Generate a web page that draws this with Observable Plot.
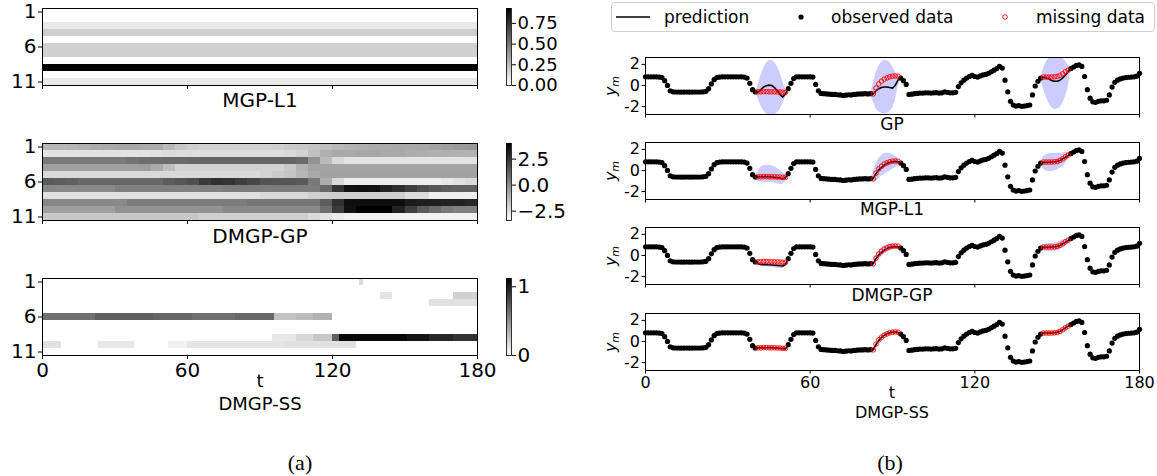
<!DOCTYPE html>
<html><head><meta charset="utf-8">
<script src="https://cdn.jsdelivr.net/npm/d3@7"></script>
<script src="https://cdn.jsdelivr.net/npm/@observablehq/plot@0.6"></script>
<style>
body{margin:0;background:#fff;}
#root{position:relative;width:1157px;height:476px;overflow:hidden;font-family:"DejaVu Sans",sans-serif;color:#000;background:#fff;}
.lbl{position:absolute;transform:translate(-50%,-50%);white-space:nowrap;line-height:0.8;}
.lleft{position:absolute;transform:translate(0,-50%);white-space:nowrap;line-height:1;}
</style></head><body><div id="root"></div>
<script>
// ---------- data ----------
const timeTicks = [0, 60, 120, 180];
const rowTicks = [1, 6, 11];
const rowIds = d3.range(1, 12);

// (a) MGP-L1 weights per row (constant in time)
const l1Weights = [0, 0, 0.08, 0.17, 0, 0.17, 0.17, 0, 0.93, 0, 0.08];

// (a) DMGP-GP values, 11 rows x 36 columns (each column spans 5 time steps)
const dgpCellStarts = d3.range(0, 180, 5);
const dgpRows = [
  [-1.3,-1.3,-1.25,-1.15,-1.0,-0.9,-0.85,-0.85,-0.9,-1.0,-1.4,-1.8,-2.0,-2.1,-2.1,-2.1,-2.1,-2.1,-2.1,-2.0,-1.9,-1.8,-1.7,-1.5,-1.3,-1.2,-1.1,-1.0,-0.95,-0.9,-0.9,-0.85,-0.7,-0.6,-0.5,-0.4],
  [-2.6,-2.6,-2.6,-2.6,-2.6,-2.6,-2.6,-2.6,-2.6,-2.5,-2.4,-2.4,-2.4,-2.4,-2.4,-2.4,-2.4,-2.4,-2.4,-2.4,-2.3,-2.1,-1.6,-1.1,-0.9,-0.9,-0.85,-0.85,-0.9,-0.9,-1.0,-1.05,-1.1,-1.1,-1.15,-1.2],
  [0.5,0.5,0.5,0.5,0.5,0.5,0.5,0.65,0.8,0.85,0.9,0.95,1.0,1.1,1.1,1.1,1.1,1.1,1.1,1.1,1.1,0.9,-0.2,-1.4,-2.3,-2.6,-2.6,-2.6,-2.6,-2.6,-2.6,-2.6,-2.6,-2.6,-2.6,-2.6],
  [-0.6,-0.6,-0.6,-0.6,-0.6,-0.6,-0.6,-0.6,-0.6,-0.9,-1.5,-2.1,-2.1,-2.1,-2.1,-2.1,-2.1,-2.1,-2.1,-2.1,-1.8,-1.2,-0.75,-0.75,-0.75,-0.75,-0.75,-0.75,-0.75,-0.75,-0.75,-0.75,-0.75,-0.75,-0.75,-0.75],
  [-2.3,-2.3,-2.3,-2.3,-2.3,-2.3,-2.3,-2.3,-2.3,-2.3,-2.3,-2.3,-2.3,-2.3,-2.3,-2.3,-2.3,-2.3,-2.1,-1.9,-1.7,-1.3,-0.9,-0.7,-0.7,-0.7,-0.7,-0.7,-0.7,-0.7,-0.7,-0.7,-0.7,-0.7,-0.7,-0.7],
  [1.4,1.3,1.2,1.0,1.0,1.0,1.0,1.0,1.0,1.0,1.3,1.5,1.7,2.3,2.6,2.5,2.2,1.9,1.6,1.5,1.5,1.4,0.5,-1.0,-2.3,-2.9,-2.9,-2.9,-2.9,-2.9,-2.9,-2.9,-2.9,-2.7,-2.5,-2.3],
  [0.05,0.05,0.05,0.05,0.05,0.05,0.3,0.3,0.3,0.3,0.3,0.3,0.3,0.3,0.3,0.4,0.4,0.4,0.4,0.4,0.4,0.4,0.4,1.0,2.5,3.5,3.6,3.5,3.0,2.6,2.2,1.8,1.5,1.3,1.2,1.2],
  [-2.5,-2.5,-2.5,-2.5,-2.5,-2.5,-2.5,-2.5,-2.5,-2.5,-2.5,-2.5,-2.5,-2.5,-2.5,-2.5,-2.5,-2.5,-2.3,-2.3,-2.3,-2.3,-2.0,-2.0,-2.0,-2.0,-2.0,-2.0,-2.0,-2.0,-2.4,-2.4,-2.9,-2.9,-2.9,-2.9],
  [0.05,0.05,0.05,0.05,0.05,0.05,0.05,0.4,0.4,0.4,0.4,0.4,0.4,0.4,0.4,0.4,0.4,0.6,0.6,0.6,0.6,0.6,0.6,1.3,2.6,3.6,3.6,3.6,3.6,3.6,3.2,3.1,3.1,3.0,3.0,2.9],
  [-0.6,-0.6,-0.6,-0.6,-0.6,-0.6,-0.2,-0.2,-0.2,-0.2,-0.2,-0.2,-0.2,-0.2,-0.2,0.05,0.05,0.05,0.05,0.05,0.05,0.05,0.05,0.8,2.3,3.5,4.0,4.0,4.0,3.0,2.2,1.4,0.9,0.5,0.3,0.3],
  [-1.8,-1.8,-1.8,-1.8,-1.8,-1.8,-1.8,-1.8,-1.8,-1.8,-1.8,-1.8,-1.8,-2.0,-2.0,-2.0,-2.0,-2.0,-2.0,-2.0,-2.0,-2.0,-2.3,-2.6,-2.8,-3.0,-3.0,-3.0,-3.0,-3.0,-3.0,-3.0,-3.0,-3.0,-3.0,-3.0]
];

// (a) DMGP-SS: non-zero segments (row, start t, end t, value)
const ssRow   = [1,    3,    3,    4,    6,    6,    6,    6,    6,    6,    6,    6,    9,    9,    9,    9,    9,    9,    9,    9,    10,   10,   10,   10,   10];
const ssStart = [131,  140,  170,  160,  0,    22,   46,   62,   80,   96,   105,  112,  95,   105,  112,  120,  123,  151,  160,  170,  0,    23,   52,   60,   100];
const ssEnd   = [133,  145,  180,  180,  22,   46,   62,   80,   96,   105,  112,  120,  105,  112,  120,  123,  151,  160,  170,  180,  8,    38,   60,   100,  130];
const ssValue = [0.15, 0.12, 0.2,  0.13, 0.63, 0.7,  0.67, 0.63, 0.66, 0.27, 0.3,  0.34, 0.1,  0.17, 0.24, 0.7,  1.08, 1.03, 0.95, 0.9,  0.13, 0.1,  0.06, 0.12, 0.13];

// (b) time series y_m, t = 0..180
const seriesValues = [
  0.82,0.82,0.82,0.82,0.82,0.8,0.75,0.45,0.0,-0.5,
  -0.6,-0.62,-0.62,-0.63,-0.63,-0.62,-0.63,-0.63,-0.62,-0.62,
  -0.62,-0.6,-0.55,-0.3,0.15,0.55,0.75,0.8,0.82,0.82,
  0.82,0.82,0.82,0.82,0.82,0.82,0.8,0.7,0.2,-0.4,
  -0.62,-0.6,-0.6,-0.58,-0.58,-0.6,-0.6,-0.6,-0.62,-0.62,
  -0.65,-0.65,-0.3,0.2,0.65,0.82,0.82,0.82,0.82,0.82,
  0.82,0.8,0.1,-0.5,-0.75,-0.78,-0.8,-0.82,-0.85,-0.85,
  -0.88,-0.9,-0.95,-0.92,-0.88,-0.9,-0.85,-0.82,-0.8,-0.8,
  -0.78,-0.8,-0.78,-0.8,-0.25,0.15,0.4,0.6,0.72,0.82,
  0.88,0.9,0.88,0.7,0.45,0.1,-0.85,-0.82,-0.78,-0.75,
  -0.72,-0.72,-0.7,-0.7,-0.72,-0.7,-0.68,-0.72,-0.7,-0.6,
  -0.65,-0.7,-0.7,-0.65,-0.1,0.25,0.5,0.7,0.85,0.95,
  0.85,0.8,0.9,1.0,1.05,1.15,1.3,1.45,1.6,1.8,
  1.65,0.5,-0.6,-1.5,-1.85,-1.95,-1.9,-1.98,-1.95,-1.9,
  -1.85,-0.9,-0.05,0.4,0.7,0.8,0.8,0.8,0.8,0.82,
  0.85,0.95,1.1,1.3,1.45,1.6,1.75,1.9,1.95,1.8,
  0.85,-0.4,-1.2,-1.55,-1.6,-1.5,-1.45,-1.45,-1.4,-0.9,
  -0.15,0.3,0.5,0.62,0.7,0.75,0.78,0.8,0.82,0.88,
  1.15
];
const missingRanges = [[41, 51], [83, 92], [145, 154]];
const gapT = [d3.range(40, 53), d3.range(82, 94), d3.range(144, 156)];

// predictions (mean, lower, upper) per gap, per model
const predGP = [
  [-0.62,-0.62,-0.4,-0.15,-0.02,0.03,0.0,-0.2,-0.5,-0.85,-1.1,-0.8,-0.3],
  [-0.78,-0.8,-0.5,-0.3,-0.2,-0.15,-0.15,-0.2,-0.25,0.0,0.5,0.7],
  [0.7,0.78,0.72,0.6,0.48,0.4,0.4,0.5,0.7,1.0,1.3,1.6]
];
const loGP = [
  [-0.62,-1.2,-1.9,-2.4,-2.7,-2.9,-2.9,-2.8,-2.6,-2.3,-1.8,-1.1,-0.3],
  [-0.78,-1.6,-2.2,-2.5,-2.65,-2.7,-2.65,-2.5,-2.2,-1.5,-0.2,0.7],
  [0.7,-0.3,-1.1,-1.7,-2.1,-2.25,-2.25,-2.1,-1.7,-1.1,-0.2,1.6]
];
const hiGP = [
  [-0.62,0.0,0.9,1.6,2.1,2.35,2.4,2.2,1.8,1.2,0.4,-0.4,-0.3],
  [-0.78,0.2,1.2,1.8,2.2,2.4,2.35,2.2,1.8,1.3,0.9,0.7],
  [0.7,1.6,2.2,2.6,2.8,2.9,2.9,2.8,2.6,2.3,1.9,1.6]
];
const predL1 = [
  [-0.62,-0.62,-0.6,-0.6,-0.6,-0.6,-0.62,-0.65,-0.68,-0.72,-0.78,-0.7,-0.3],
  [-0.78,-0.75,-0.3,0.05,0.3,0.5,0.65,0.75,0.82,0.85,0.82,0.7],
  [0.7,0.78,0.78,0.78,0.8,0.82,0.85,0.95,1.1,1.25,1.4,1.6]
];
const loL1 = [
  [-0.62,-1.0,-1.1,-1.15,-1.15,-1.15,-1.15,-1.2,-1.25,-1.3,-1.35,-1.0,-0.3],
  [-0.78,-1.1,-1.0,-0.8,-0.55,-0.35,-0.2,-0.05,0.1,0.25,0.35,0.7],
  [0.7,0.15,-0.05,-0.1,-0.1,-0.05,0.05,0.2,0.4,0.65,1.0,1.6]
];
const hiL1 = [
  [-0.62,-0.1,0.3,0.45,0.5,0.5,0.45,0.35,0.2,0.0,-0.2,-0.4,-0.3],
  [-0.78,-0.2,0.6,1.1,1.4,1.6,1.65,1.6,1.5,1.35,1.15,0.7],
  [0.7,1.3,1.5,1.55,1.6,1.6,1.6,1.62,1.65,1.7,1.7,1.6]
];
const predDGP = [
  [-0.62,-0.78,-0.85,-0.87,-0.88,-0.88,-0.9,-0.92,-0.95,-0.98,-1.0,-0.85,-0.3],
  [-0.78,-0.78,-0.3,0.05,0.3,0.5,0.65,0.75,0.8,0.82,0.8,0.7],
  [0.7,0.78,0.78,0.78,0.8,0.82,0.85,0.95,1.1,1.25,1.4,1.6]
];
const loDGP = [
  [-0.62,-0.95,-1.05,-1.08,-1.1,-1.12,-1.14,-1.16,-1.2,-1.25,-1.25,-1.05,-0.3],
  [-0.78,-1.05,-0.7,-0.35,-0.1,0.1,0.25,0.4,0.5,0.6,0.65,0.7],
  [0.7,0.45,0.4,0.35,0.35,0.4,0.45,0.55,0.7,0.9,1.1,1.6]
];
const hiDGP = [
  [-0.62,-0.6,-0.65,-0.68,-0.7,-0.7,-0.72,-0.74,-0.76,-0.78,-0.8,-0.65,-0.3],
  [-0.78,-0.5,0.1,0.45,0.7,0.9,1.05,1.1,1.1,1.05,0.95,0.7],
  [0.7,1.0,1.1,1.15,1.15,1.2,1.25,1.35,1.45,1.55,1.65,1.6]
];
const predSS = [
  [-0.62,-0.62,-0.6,-0.6,-0.6,-0.6,-0.6,-0.62,-0.62,-0.64,-0.68,-0.7,-0.3],
  [-0.78,-0.8,-0.3,0.1,0.38,0.58,0.72,0.82,0.88,0.9,0.86,0.7],
  [0.7,0.8,0.8,0.8,0.8,0.82,0.85,0.95,1.1,1.28,1.45,1.6]
];
const loSS = [
  [-0.62,-0.74,-0.72,-0.72,-0.72,-0.72,-0.72,-0.74,-0.74,-0.76,-0.8,-0.8,-0.3],
  [-0.78,-0.9,-0.42,-0.02,0.26,0.46,0.6,0.7,0.76,0.78,0.76,0.7],
  [0.7,0.7,0.7,0.7,0.7,0.72,0.75,0.85,1.0,1.18,1.35,1.6]
];
const hiSS = [
  [-0.62,-0.52,-0.5,-0.5,-0.5,-0.5,-0.5,-0.52,-0.52,-0.54,-0.58,-0.6,-0.3],
  [-0.78,-0.7,-0.18,0.22,0.5,0.7,0.84,0.94,1.0,1.02,0.96,0.7],
  [0.7,0.9,0.9,0.9,0.9,0.92,0.95,1.05,1.2,1.38,1.55,1.6]
];
const modelNames = ["GP", "MGP-L1", "DMGP-GP", "DMGP-SS"];
const yTicks = [-2, 0, 2];

// ---------- helpers ----------
const root = document.getElementById("root");
const FONT = '"DejaVu Sans", sans-serif';
function place(node, left, top) {
  node.style.position = "absolute";
  node.style.left = left + "px";
  node.style.top = top + "px";
  root.appendChild(node);
}
function label(html, x, y, size, cls, extra) {
  const d = document.createElement("div");
  d.className = cls || "lbl";
  d.innerHTML = html;
  d.style.left = x + "px";
  d.style.top = y + "px";
  d.style.fontSize = size + "px";
  if (extra) Object.assign(d.style, extra);
  root.appendChild(d);
}
const greys = (domain) => ({type: "linear", domain, range: ["#ffffff", "#000000"], interpolate: "rgb"});

// ---------- (a) heatmaps ----------
const HM_LEFT = 42, HM_RIGHT = 477, HM_H = 77;
function heatmap(cells, domain, frameTop, showX) {
  const mt = 6, mb = showX ? 34 : 8;
  const svg = Plot.plot({
    width: HM_RIGHT + 13, height: mt + HM_H + mb,
    marginLeft: HM_LEFT, marginRight: 13, marginTop: mt, marginBottom: mb,
    style: {fontSize: "20px", fontFamily: FONT, background: "transparent", overflow: "visible", color: "black"},
    x: {domain: [0, 180]},
    y: {domain: [11.5, 0.5]},
    color: greys(domain),
    marks: [
      Plot.rect(cells, {x1: "t1", x2: "t2", y1: d => d.row - 0.5, y2: d => d.row + 0.5, fill: "v", shapeRendering: "crispEdges"}),
      Plot.frame({stroke: "black", strokeWidth: 1}),
      Plot.axisY({ticks: rowTicks, tickSize: 4, tickPadding: 2, label: null}),
      Plot.axisX({ticks: timeTicks, tickSize: 4, tickPadding: 3, label: null, tickFormat: showX ? (d => String(d)) : (() => "")})
    ]
  });
  place(svg, 0, frameTop - mt);
}
function colorbar(domain, ticks, fmt, frameTop, fs) {
  const [lo, hi] = domain, n = 120;
  const slices = d3.range(n).map(i => ({a: lo + (hi - lo) * i / n, b: lo + (hi - lo) * (i + 1) / n}));
  const mt = 6;
  const svg = Plot.plot({
    width: 100, height: mt + HM_H + 8,
    marginLeft: 10, marginRight: 85, marginTop: mt, marginBottom: 8,
    style: {fontSize: fs + "px", fontFamily: FONT, background: "transparent", overflow: "visible", color: "black"},
    x: {domain: [0, 1], axis: null},
    y: {domain},
    color: greys(domain),
    marks: [
      Plot.rect(slices, {x1: 0, x2: 1, y1: "a", y2: "b", fill: d => (d.a + d.b) / 2, shapeRendering: "crispEdges"}),
      Plot.frame({stroke: "black", strokeWidth: 0.8}),
      Plot.axisY({anchor: "right", ticks, tickFormat: fmt, tickSize: 4, tickPadding: 2, label: null})
    ]
  });
  place(svg, 496, frameTop - mt);
}

const l1Cells = l1Weights.map((v, i) => ({row: rowIds[i], t1: 0, t2: 180, v}));
const dgpCells = dgpRows.flatMap((vals, i) => vals.map((v, j) => ({row: rowIds[i], t1: dgpCellStarts[j], t2: dgpCellStarts[j] + 5, v})));
const ssCells = ssRow.map((r, i) => ({row: r, t1: ssStart[i], t2: ssEnd[i], v: ssValue[i]}));

const H_TOPS = [8, 143, 278];
heatmap(l1Cells, [0, 0.93], H_TOPS[0], false);
colorbar([0, 0.93], [0, 0.25, 0.5, 0.75], d3.format(".2f"), H_TOPS[0], 18);
heatmap(dgpCells, [-3.4, 4.0], H_TOPS[1], false);
colorbar([-3.4, 4.0], [-2.5, 0, 2.5], d3.format(".1f"), H_TOPS[1], 20);
heatmap(ssCells, [0, 1.12], H_TOPS[2], true);
colorbar([0, 1.12], [0, 1], d3.format("d"), H_TOPS[2], 20);

label("MGP-L1", 260, 100, 20);
label("DMGP-GP", 260, 236, 20);
label("t", 260, 381, 18);
label("DMGP-SS", 260, 404, 18);
label("(a)", 300, 463, 22, "lbl", {fontFamily: '"Liberation Serif", serif'});

// ---------- (b) time series ----------
const tAll = d3.range(0, 181);
const isMissing = t => missingRanges.some(([a, b]) => t >= a && t <= b);
const observed = tAll.filter(t => !isMissing(t)).map(t => ({t, v: seriesValues[t]}));
const missing = tAll.filter(t => isMissing(t)).map(t => ({t, v: seriesValues[t]}));
const modelPreds = {
  "GP": [predGP, loGP, hiGP],
  "MGP-L1": [predL1, loL1, hiL1],
  "DMGP-GP": [predDGP, loDGP, hiDGP],
  "DMGP-SS": [predSS, loSS, hiSS]
};
const S_LEFT = 645, S_RIGHT = 1139, S_H = 57, S_X0 = 590;
function seriesPanel(name, frameTop, showX) {
  const [pred, lo, hi] = modelPreds[name];
  const band = gapT.flatMap((ts, g) => ts.map((t, k) => ({gap: g, t, pred: pred[g][k], lo: lo[g][k], hi: hi[g][k]})));
  const mt = 4, mb = showX ? 26 : 6;
  const svg = Plot.plot({
    width: 1157 - S_X0, height: mt + S_H + mb,
    marginLeft: S_LEFT - S_X0, marginRight: 1157 - S_RIGHT, marginTop: mt, marginBottom: mb,
    style: {fontSize: "16px", fontFamily: FONT, background: "transparent", overflow: "visible", color: "black"},
    x: {domain: [0, 180]},
    y: {domain: [-2.75, 2.65]},
    marks: [
      Plot.areaY(band, {x: "t", y1: "lo", y2: "hi", z: "gap", fill: "blue", fillOpacity: 0.2, clip: true}),
      Plot.line(band, {x: "t", y: "pred", z: "gap", stroke: "black", strokeWidth: 1.6}),
      Plot.dot(observed, {x: "t", y: "v", r: 2.6, fill: "black"}),
      Plot.dot(missing, {x: "t", y: "v", r: 2.3, stroke: "red", strokeWidth: 0.9}),
      Plot.frame({stroke: "black", strokeWidth: 1}),
      Plot.axisY({ticks: yTicks, tickSize: 3.5, tickPadding: 2, label: null, tickFormat: d => d < 0 ? "-" + (-d) : String(d)}),
      Plot.axisX({ticks: timeTicks, tickSize: 3.5, tickPadding: 3, label: null, tickFormat: showX ? (d => String(d)) : (() => "")})
    ]
  });
  place(svg, S_X0, frameTop - mt);
}
const S_TOPS = [57, 142, 227, 313];
modelNames.forEach((m, i) => seriesPanel(m, S_TOPS[i], i === 3));

const titleY = [125, 210, 296];
modelNames.slice(0, 3).forEach((m, i) => label(m, 892, titleY[i], 17));
label("t", 892, 393, 16);
label("DMGP-SS", 892, 413, 16);
S_TOPS.forEach(top => label('<i>y</i><sub style="font-size:11px;font-style:italic;vertical-align:-3px">m</sub>', 612, top + S_H / 2, 16, "lbl", {transform: "translate(-50%,-50%) rotate(-90deg)", lineHeight: "1"}));
label("(b)", 890, 463, 22, "lbl", {fontFamily: '"Liberation Serif", serif'});

// legend
const leg = document.createElement("div");
leg.style.cssText = "position:absolute;left:611px;top:2px;width:544px;height:30px;border:1px solid #cfcfcf;border-radius:4px;box-sizing:border-box;background:#fff;";
root.appendChild(leg);
const ns = "http://www.w3.org/2000/svg";
const lsvg = document.createElementNS(ns, "svg");
lsvg.setAttribute("width", 1157); lsvg.setAttribute("height", 40);
lsvg.style.cssText = "position:absolute;left:0;top:0;overflow:visible";
lsvg.innerHTML = '<line x1="616" x2="650" y1="17" y2="17" stroke="black" stroke-width="1.6"/>' +
  '<circle cx="801" cy="17" r="2.6" fill="black"/>' +
  '<circle cx="1005" cy="17" r="2.3" fill="none" stroke="red" stroke-width="0.9"/>';
root.appendChild(lsvg);
label("prediction", 664, 17, 17, "lleft");
label("observed data", 831, 17, 17, "lleft");
label("missing data", 1036, 17, 17, "lleft");
</script></body></html>
